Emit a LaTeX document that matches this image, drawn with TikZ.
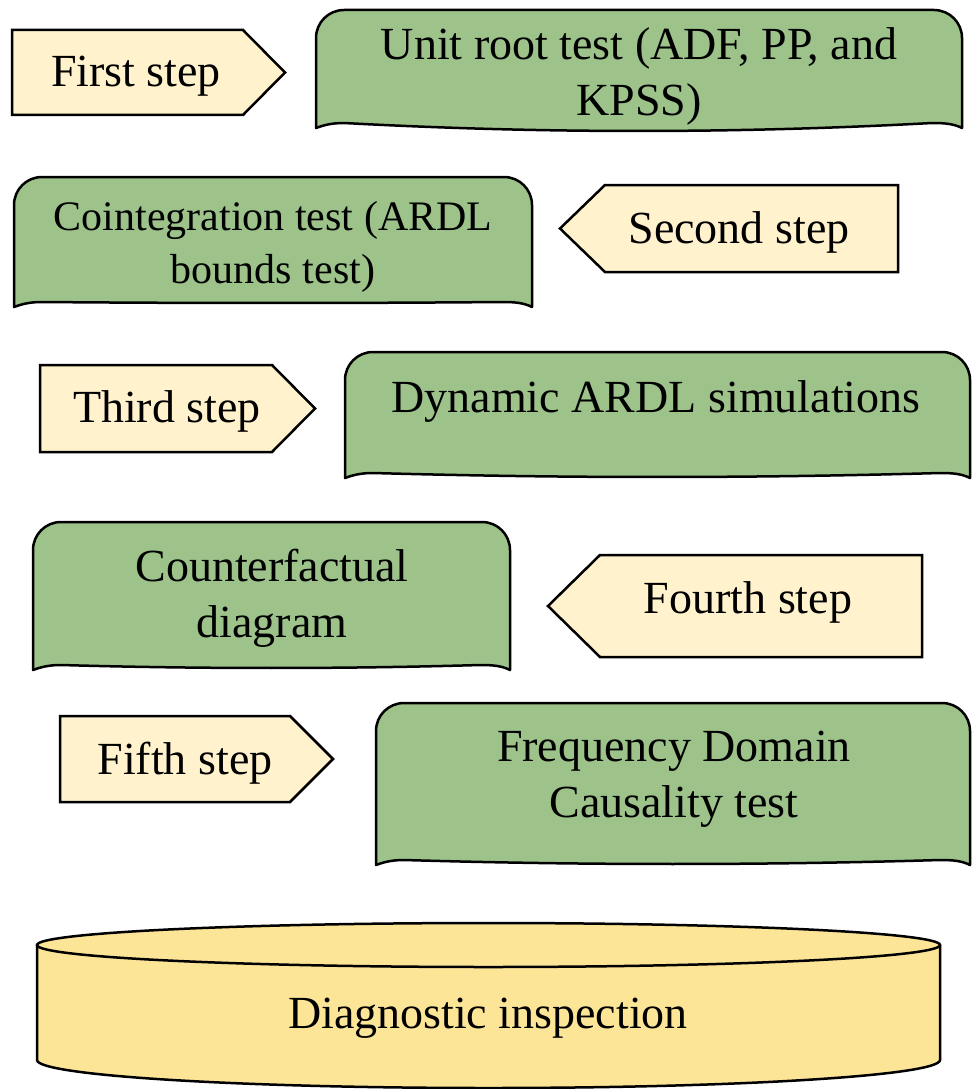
\documentclass[tikz,border=0pt]{standalone}
\usepackage{fontspec}
\setmainfont{Liberation Serif}
\usetikzlibrary{positioning}
\definecolor{cardgreen}{HTML}{9DC38B}
\definecolor{flagcream}{HTML}{FFF2CC}
\definecolor{drumyellow}{HTML}{FDE597}
% green card with rounded top and wavy bottom: x0, ytop, x1, ybottom, sag
\newcommand{\wavecard}[5]{%
  \draw[card] (#1,#4) -- (#1,#2+28) .. controls (#1,#2+12.5) and (#1+12.5,#2) .. (#1+28,#2)
    -- (#3-28,#2) .. controls (#3-12.5,#2) and (#3,#2+12.5) .. (#3,#2+28)
    -- (#3,#4) .. controls (#3-8,#4-4) and (#3-16,#4-5) .. (#3-30,#4-5)
    .. controls ({#3-0.35*(#3-#1)},{#4-5+1.33*#5}) and ({#1+0.35*(#3-#1)},{#4-5+1.33*#5}) .. (#1+28,#4-5)
    .. controls (#1+16,#4-5) and (#1+8,#4-3) .. (#1,#4) -- cycle;}
\newcommand{\flagright}[5]{% x0, xbody, xtip, ytop, ybottom
  \draw[flag] (#1,#4) -- (#2,#4) -- (#3,{(#4+#5)/2}) -- (#2,#5) -- (#1,#5) -- cycle;}
\newcommand{\flagleft}[5]{% xtip, xbody, x1, ytop, ybottom
  \draw[flag] (#3,#4) -- (#2,#4) -- (#1,{(#4+#5)/2}) -- (#2,#5) -- (#3,#5) -- cycle;}

\begin{document}
\begin{tikzpicture}[
  x=1pt, y=-1pt,
  card/.style={fill=cardgreen, draw=black, line width=2.5pt, line join=round},
  flag/.style={fill=flagcream, draw=black, line width=2.5pt, line join=miter},
  drum/.style={fill=drumyellow, draw=black, line width=2.5pt},
  label/.style={align=center, inner sep=0pt, font=\fontsize{46}{56}\selectfont},
  smalllabel/.style={label, font=\fontsize{42}{53}\selectfont}
]
  \useasboundingbox (0,0) rectangle (972,1089);
  % steps on the left / right
  \flagright{12}{243}{285}{30}{115}
  \flagleft{560}{605}{898}{185}{272}
  \flagright{40}{272}{315}{365}{452}
  \flagleft{548}{600}{922}{555}{657}
  \flagright{60}{290}{333}{716}{802}
  % green cards
  \wavecard{316}{10}{962}{128}{8}
  \wavecard{14}{177}{532}{307}{1}
  \wavecard{345}{352}{970}{478}{4}
  \wavecard{33}{522}{510}{670}{3}
  \wavecard{376}{703}{970}{865}{4}
  % drum at the bottom
  \fill[drumyellow] (37,945) -- (37,1060) arc[start angle=180, end angle=0, x radius=451.5, y radius=28]
    -- (940,945) -- cycle;
  \draw[drum] (37,945) -- (37,1060) arc[start angle=180, end angle=0, x radius=451.5, y radius=28]
    -- (940,945);
  \draw[drum] (488.5,945) ellipse[x radius=451.5, y radius=22];
  % texts
  \node[label] (first) at (136,76) {First step};
  \node[label] (unitroot) at (639,76) {Unit root test (ADF, PP, and\\KPSS)};
  \node[smalllabel] (coint) at (273,247) {Cointegration test (ARDL\\bounds test)};
  \node[label] (second) at (739,232) {Second step};
  \node[label] (third) at (167,411) {Third step};
  \node[label] (dynardl) at (656,402) {Dynamic ARDL simulations};
  \node[label] (counter) at (272,598) {Counterfactual\\diagram};
  \node[label] (fourth) at (748,602) {Fourth step};
  \node[label] (fifth) at (185,763) {Fifth step};
  \node[label] (freq) at (674,779) {Frequency Domain\\Causality test};
  \node[label] (diag) at (488,1018) {Diagnostic inspection};
\end{tikzpicture}
\end{document}
